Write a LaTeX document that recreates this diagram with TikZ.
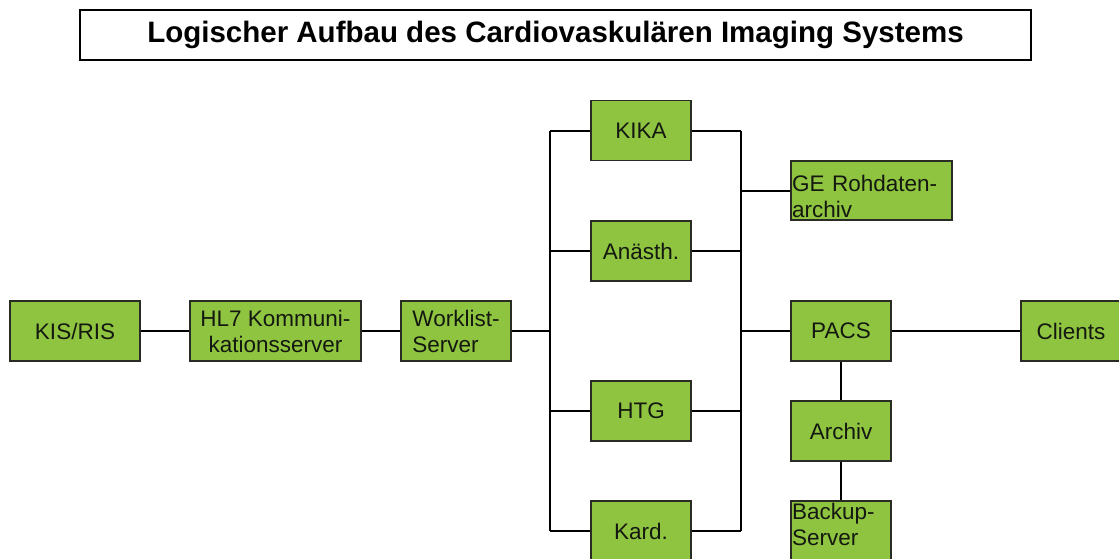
\documentclass[tikz,border=0pt]{standalone}
\usepackage{fontspec}
\setmainfont{Liberation Sans}
\definecolor{boxgreen}{RGB}{142,196,64}
\definecolor{edgegray}{RGB}{40,44,36}
\definecolor{inkdark}{RGB}{20,24,16}
\tikzset{
  unit/.style={draw=edgegray, line width=1.1pt, fill=boxgreen, text=inkdark,
    minimum width=100pt, minimum height=60pt, inner sep=1pt, align=center,
    font=\fontsize{22.5}{26}\selectfont},
  leftunit/.style={unit, align=left, text width=98pt},
  link/.style={draw=black, line width=2pt},
  heading/.style={draw=black, line width=1.1pt, minimum width=951pt, minimum height=50pt,
    font=\fontsize{29.5}{34}\selectfont\bfseries}
}
\begin{document}
\begin{tikzpicture}[x=1pt,y=-1pt]
  \useasboundingbox (0,0) rectangle (1119,558);
  \clip (0,0) rectangle (1119,558);

  % title banner
  \node[heading] (title) at (555.5,35) {\raisebox{-1.5pt}{Logischer Aufbau des Cardiovaskulären Imaging Systems}};

  % left chain
  \node[unit, minimum width=130pt] (kis) at (75,331) {KIS/RIS};
  \node[unit, minimum width=171pt] (hl7) at (275.5,331) {HL7 Kommuni-\\kationsserver};
  \node[unit, minimum width=110pt, align=left] (wl) at (456,331) {Worklist-\\Server};

  % modalities between the two buses
  \node[unit] (kika) at (641,130.5) {KIKA};
  \node[unit] (anae) at (641,251) {Anästh.};
  \node[unit] (htg)  at (641,411) {HTG};
  \node[unit] (kard) at (641,531) {Kard.};

  % archive side
  \node[leftunit, minimum width=161pt, text width=159pt, minimum height=59pt] (ge) at (871.5,190.5)
    {\rule{0pt}{28pt}GE Rohdaten-\\archiv};
  \node[unit] (pacs) at (841,331) {PACS};
  \node[unit] (clients) at (1071,331) {Clients};
  \node[unit] (archiv) at (841,431) {Archiv};
  \node[leftunit] (backup) at (841,531) {Backup-\\Server\rule[-12.5pt]{0pt}{0pt}};

  % bus lines
  \coordinate (busL) at (550,0);
  \coordinate (busR) at (741,0);
  \draw[link] (kika.west -| busL) -- (kard.west -| busL);
  \draw[link] (kika.east -| busR) -- (kard.east -| busR);

  % connectors
  \draw[link] (kis) -- (hl7);
  \draw[link] (hl7) -- (wl);
  \draw[link] (wl.east) -- (wl.east -| busL);
  \foreach \n in {kika,anae,htg,kard}{
    \draw[link] (\n.west -| busL) -- (\n.west);
    \draw[link] (\n.east) -- (\n.east -| busR);
  }
  \draw[link] (ge.west -| busR) -- (ge.west);
  \draw[link] (pacs.west -| busR) -- (pacs.west);
  \draw[link] (pacs) -- (clients);
  \draw[link] (pacs) -- (archiv);
  \draw[link] (archiv) -- (backup);
\end{tikzpicture}
\end{document}
